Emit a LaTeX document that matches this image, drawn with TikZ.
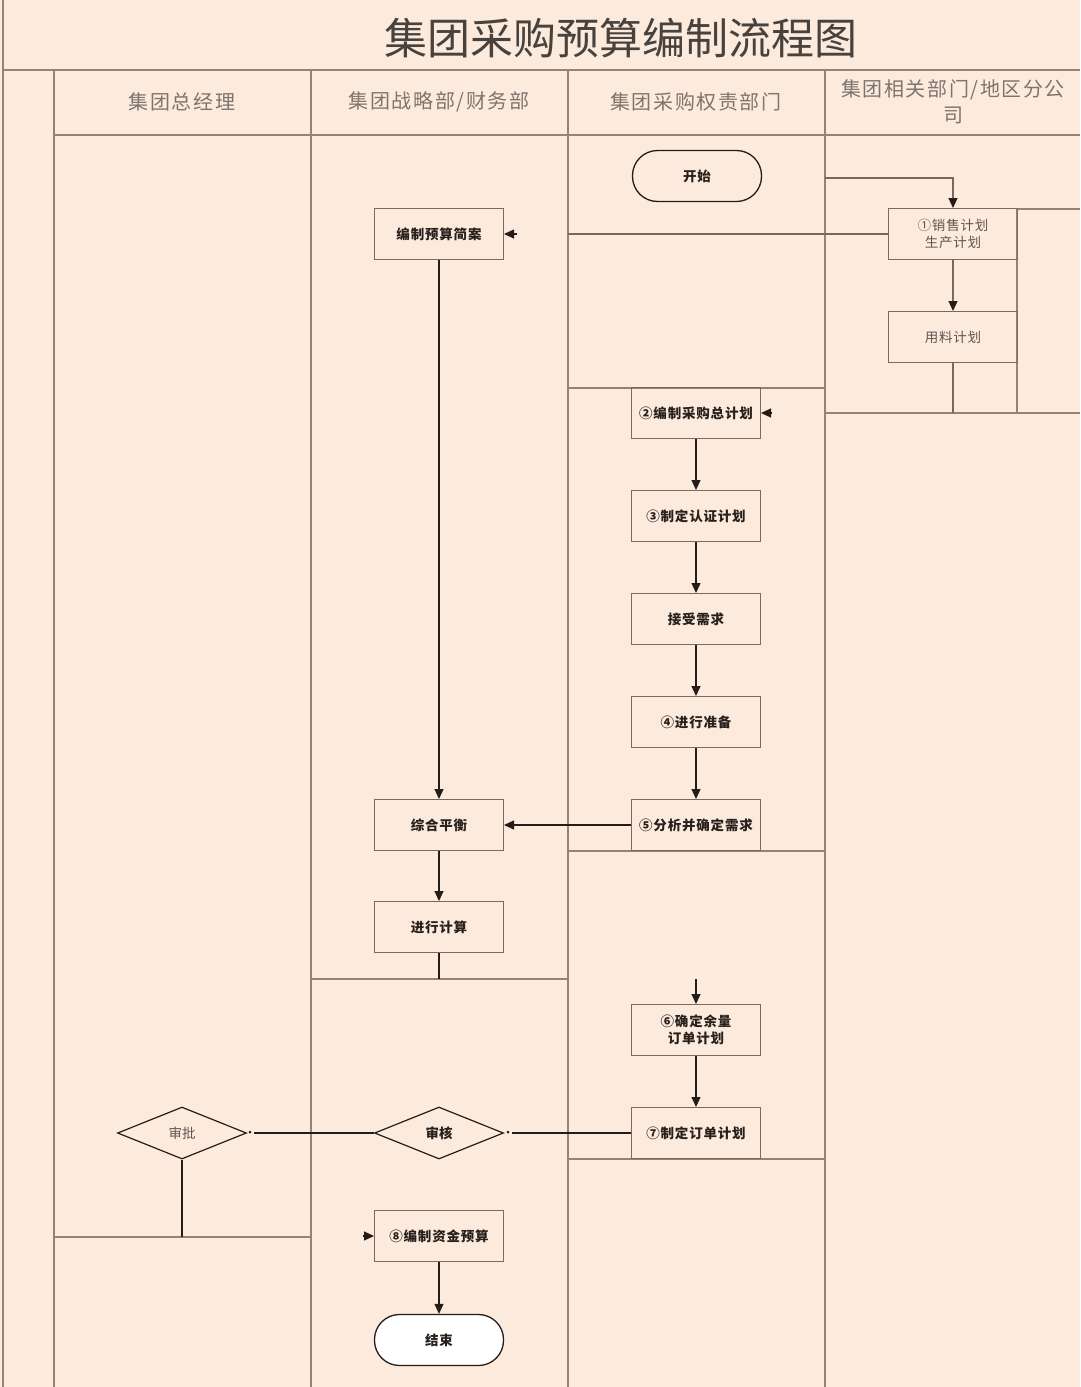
\documentclass[tikz,border=0pt]{standalone}
\usepackage{fontspec}
\setmainfont{Noto Sans CJK SC}
\usetikzlibrary{arrows.meta,shapes.geometric}
\definecolor{bg}{RGB}{252,235,221}
\definecolor{laneline}{RGB}{150,130,115}
\definecolor{boxline}{RGB}{125,105,92}
\definecolor{arr}{RGB}{35,28,24}
\definecolor{hdr}{RGB}{125,116,110}
\definecolor{txt}{RGB}{40,32,28}
\definecolor{ltxt}{RGB}{95,85,80}
\begin{document}
\begin{tikzpicture}[x=1pt,y=-1pt,
  lane/.style={draw=laneline, line width=1.1pt},
  hdrtext/.style={text=hdr, font=\fontsize{20}{26}\selectfont\addfontfeature{LetterSpace=8}, align=center, inner sep=0pt},
  proc/.style={draw=boxline, line width=1pt, minimum width=129pt, minimum height=51pt, inner sep=0pt, font=\fontsize{13.5}{17}\selectfont\bfseries\addfontfeature{LetterSpace=6}, text=txt, align=center},
  procl/.style={proc, font=\fontsize{13.5}{17}\selectfont\addfontfeature{LetterSpace=6}, text=ltxt},
  term/.style={proc, rounded corners=25pt, draw=arr, line width=1.3pt},
  decision/.style={diamond, draw=arr, line width=1.2pt, minimum width=129pt, minimum height=52pt, inner sep=0pt, aspect=2.5, font=\fontsize{13.5}{17}\selectfont\bfseries, text=txt},
  flow/.style={draw=arr, line width=1.2pt, -{Triangle[length=10pt,width=9pt,color=arr]}},
  conn/.style={draw=arr, line width=1.2pt},
  lconn/.style={draw=laneline!80!black, line width=1.1pt},
  tip/.style={fill=arr, circle, inner sep=0pt, minimum size=3pt}
]
\useasboundingbox (0,0) rectangle (1080,1387);
\fill[bg] (0,0) rectangle (1080,1387);

% frame and lanes
\draw[lane] (3,0) -- (3,1387);
\draw[lane] (3,70) -- (1080,70);
\draw[lane] (54,70) -- (54,1387);
\draw[lane] (54,135) -- (1080,135);
\draw[lane] (311,70) -- (311,1387);
\draw[lane] (568,70) -- (568,1387);
\draw[lane] (825,70) -- (825,1387);
\draw[lane] (568,388) -- (825,388);
\draw[lane] (568,851) -- (825,851);
\draw[lane] (568,1159) -- (825,1159);
\draw[lane] (311,979) -- (568,979);
\draw[lane] (54,1237) -- (311,1237);
\draw[lane] (825,413) -- (1080,413);
\draw[lane] (1017,209) -- (1080,209);
\draw[lane] (1017,209) -- (1017,413);

% title and headers
\node[text=txt!85, font=\fontsize{43}{50}\selectfont, inner sep=0pt] (title) at (621,38) {集团采购预算编制流程图};
\node[hdrtext] (h1) at (182,102) {集团总经理};
\node[hdrtext] (h2) at (439,102) {集团战略部/财务部};
\node[hdrtext] (h3) at (696,102) {集团采购权责部门};
\node[hdrtext] (h4) at (953,102) {集团相关部门/地区分公\\司};

% nodes
\node[term, fill=bg] (start) at (697,176) {开始};
\node[proc] (jianan) at (439,234) {编制预算简案};
\node[procl] (n1) at (953,234) {①销售计划\\生产计划};
\node[procl] (yongliao) at (953,337) {用料计划};
\node[proc] (n2) at (696,413) {②编制采购总计划};
\node[proc] (n3) at (696,516) {③制定认证计划};
\node[proc] (jieshou) at (696,619) {接受需求};
\node[proc] (n4) at (696,722) {④进行准备};
\node[proc] (n5) at (696,825) {⑤分析并确定需求};
\node[proc] (zonghe) at (439,825) {综合平衡};
\node[proc] (jisuan) at (439,927) {进行计算};
\node[proc] (n6) at (696,1030) {⑥确定余量\\订单计划};
\node[proc] (n7) at (696,1133) {⑦制定订单计划};
\node[decision] (shenhe) at (439,1133) {审核};
\node[decision, font=\fontsize{13.5}{17}\selectfont, text=ltxt] (shenpi) at (182,1133) {审批};
\node[proc] (n8) at (439,1236) {⑧编制资金预算};
\node[term, fill=white] (end) at (439,1340) {结束};

% free ends
\coordinate (c1) at (825,178);
\coordinate (c2) at (953,413);
\coordinate (c3) at (772,413);
\coordinate (c4) at (517,234);
\coordinate (c5) at (568,234);
\coordinate (c6) at (439,979);
\coordinate (c7) at (696,979);
\coordinate (c8) at (512,1133);
\coordinate (c9) at (254,1133);
\coordinate (c10) at (182,1237);
\coordinate (c11) at (363,1236);

% connectors
\draw[flow, draw=laneline!80!black] (c1) -| (n1.north);
\draw[flow, draw=laneline!80!black] (n1) -- (yongliao);
\draw[lconn] (yongliao.south) -- (c2);
\draw[flow] (c3) -- (n2.east);
\draw[flow] (c4) -- (jianan.east);
\draw[lconn] (c5) -- (n1.west);
\draw[flow] (jianan) -- (zonghe);
\draw[flow] (n2) -- (n3);
\draw[flow] (n3) -- (jieshou);
\draw[flow] (jieshou) -- (n4);
\draw[flow] (n4) -- (n5);
\draw[flow] (n5) -- (zonghe);
\draw[flow] (zonghe) -- (jisuan);
\draw[conn] (jisuan.south) -- (c6);
\draw[flow] (c7) -- (n6.north);
\draw[flow] (n6) -- (n7);
\draw[conn] (n7.west) -- (c8);
\node[tip] (d1) at (508,1132) {};
\draw[conn] (shenhe.west) -- (c9);
\node[tip] (d2) at (250,1132) {};
\draw[conn] (shenpi.south) -- (c10);
\draw[flow] (c11) -- (n8.west);
\draw[flow] (n8) -- (end);
\end{tikzpicture}
\end{document}
